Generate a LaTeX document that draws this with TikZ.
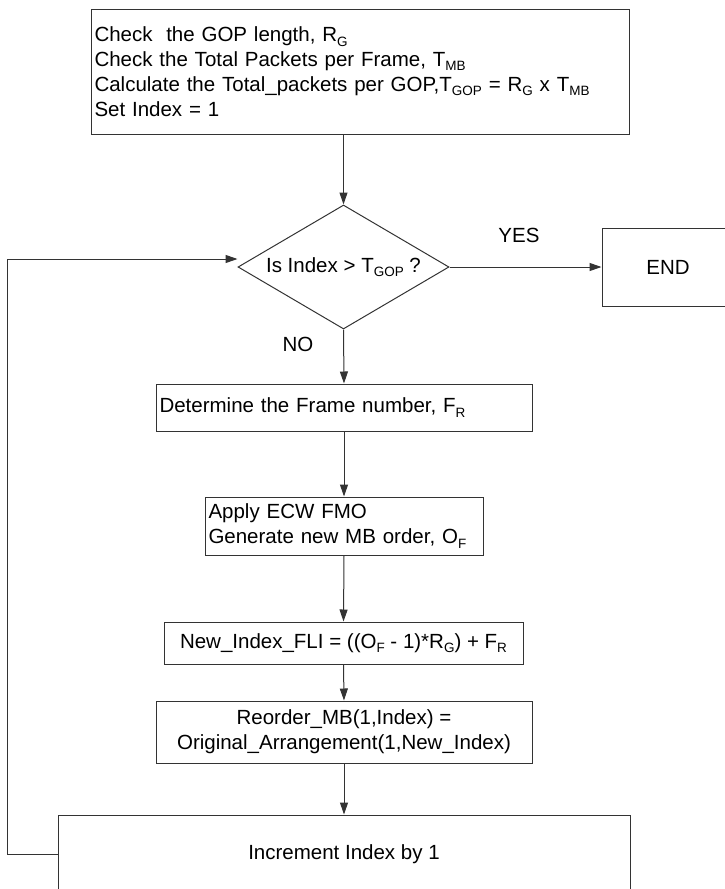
\documentclass[tikz,border=0pt]{standalone}
\usepackage{fontspec}
\setmainfont{Liberation Sans}
\usetikzlibrary{arrows.meta,shapes.geometric}
\newcommand\subt[1]{\raisebox{-0.22em}{\fontsize{13.5}{13.5}\selectfont #1}}
\begin{document}
\begin{tikzpicture}[x=1pt,y=-1pt,
  box/.style={draw=black!80, line width=1pt, inner xsep=3.5pt, inner ysep=0pt,
    font=\fontsize{20.5}{24.8}\selectfont},
  flow/.style={draw=black!80, line width=1pt, -{Triangle[length=12pt,width=8pt]}},
  lbl/.style={font=\fontsize{20.5}{24.5}\selectfont, inner sep=0pt}]
\useasboundingbox (0,0) rectangle (725,889);
\clip (0,0) rectangle (725,889);

\node[box, text width=531pt, minimum height=125pt, align=left] (init) at (360,71.5)
  {Check~ the GOP length, R\subt{G}\\
   Check the Total Packets per Frame, T\subt{MB}\\
   Calculate the Total\_packets per GOP,T\subt{GOP} = R\subt{G} x T\subt{MB}\\
   Set Index = 1};

\node[box, diamond, aspect=1.7, inner sep=0pt, minimum width=211pt, minimum height=124pt]
  (dia) at (343.5,267) {Is Index > T\subt{GOP} ?};

\node[box, minimum width=132pt, minimum height=78pt] (end) at (668,267) {END};

\node[box, text width=369pt, minimum height=47pt, align=left] (frame) at (344,407.5)
  {Determine the Frame number, F\subt{R}};

\node[box, text width=271pt, minimum height=58pt, align=left] (apply) at (344,526)
  {Apply ECW FMO\\Generate new MB order, O\subt{F}};

\node[box, minimum width=359pt, minimum height=42pt] (newidx) at (343.5,643)
  {New\_Index\_FLI = ((O\subt{F} - 1)*R\subt{G}) + F\subt{R}};

\node[box, minimum width=376pt, minimum height=62pt, align=center] (reord) at (344,732)
  {Reorder\_MB(1,Index) =\\Original\_Arrangement(1,New\_Index)};

\node[box, minimum width=572pt, minimum height=78pt] (incr) at (344,854)
  {Increment Index by 1};

\node[lbl] (yes) at (519,235) {YES};
\node[lbl] (no) at (298,344) {NO};

\draw[flow] (init.south -| dia.north) -- (dia.north);
\draw[flow] (dia.east) -- (end.west);
\draw[flow] (dia.south) -- (frame.north);
\draw[flow] (frame.south) -- (apply.north);
\draw[flow] (apply.south) -- (newidx.north);
\draw[flow] (newidx.south) -- (reord.north);
\draw[flow] (reord.south) -- (incr.north);
\draw[flow] (incr.west) -- ++(-50,0) |- ([yshift=8pt]dia.west);
\end{tikzpicture}
\end{document}
